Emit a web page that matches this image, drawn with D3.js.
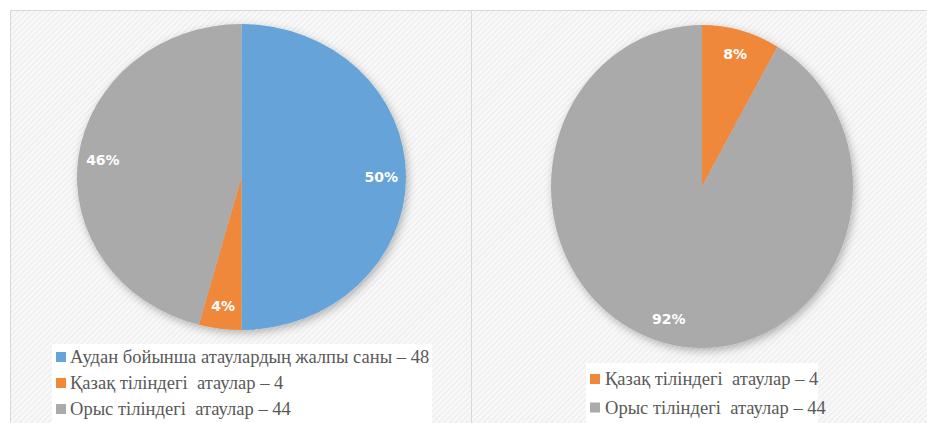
<!DOCTYPE html>
<html>
<head>
<meta charset="utf-8">
<script src="https://cdn.jsdelivr.net/npm/d3@7"></script>
<style>
  html, body { margin: 0; padding: 0; background: #ffffff; }
  svg { display: block; }
</style>
</head>
<body>
<svg id="chart" width="927" height="423"></svg>
<script>
// data
const leftNames = ["Аудан бойынша атаулардың жалпы саны – 48", "Қазақ тіліндегі  атаулар – 4", "Орыс тіліндегі  атаулар – 44"];
const leftValues = [48, 4, 44];
const leftLabels = ["50%", "4%", "46%"];
const rightNames = ["Қазақ тіліндегі  атаулар – 4", "Орыс тіліндегі  атаулар – 44"];
const rightValues = [4, 44];
const rightLabels = ["8%", "92%"];
const leftColors = ["#65a3d9", "#f0883a", "#aaaaaa"];
const rightColors = ["#f0883a", "#aaaaaa"];

const svg = d3.select("#chart");
const defs = svg.append("defs");

// diagonal stripes used as chart area background
const pattern = defs.append("pattern")
  .attr("id", "stripes")
  .attr("width", 4)
  .attr("height", 4)
  .attr("patternUnits", "userSpaceOnUse")
  .attr("patternTransform", "rotate(45)");
pattern.append("rect").attr("width", 4).attr("height", 4).attr("fill", "#f9f9f9");
pattern.append("rect").attr("width", 1.3).attr("height", 4).attr("fill", "#ececec");

const shadow = defs.append("filter")
  .attr("id", "shadow")
  .attr("x", "-20%").attr("y", "-20%")
  .attr("width", "140%").attr("height", "140%");
shadow.append("feDropShadow")
  .attr("dx", 2).attr("dy", 3)
  .attr("stdDeviation", 4)
  .attr("flood-color", "#000")
  .attr("flood-opacity", 0.28);

// two chart panels
const panels = [
  { x: 10, w: 461 },
  { x: 471, w: 470 },
];
panels.forEach((p) => {
  svg.append("rect")
    .attr("x", p.x + 0.5)
    .attr("y", 10.5)
    .attr("width", p.w)
    .attr("height", 430)
    .attr("fill", "url(#stripes)")
    .attr("stroke", "#d9d9d9")
    .attr("stroke-width", 1);
});

const drawPie = (values, colors, labels, cfg) => {
  const pie = d3.pie().sort(null).value((d) => d);
  const arcs = pie(values);
  const r = 100;
  const arc = d3.arc().innerRadius(0).outerRadius(r);
  const labelArc = d3.arc().innerRadius(r * 0.85).outerRadius(r * 0.85);

  const g = svg.append("g")
    .attr("transform", `translate(${cfg.cx},${cfg.cy})`);

  g.append("g")
    .attr("filter", "url(#shadow)")
    .append("g")
    .attr("transform", `scale(${cfg.rx / r},${cfg.ry / r})`)
    .selectAll("path")
    .data(arcs)
    .join("path")
    .attr("d", arc)
    .attr("fill", (d, i) => colors[i]);

  g.selectAll("text")
    .data(arcs)
    .join("text")
    .attr("x", (d) => (labelArc.centroid(d)[0] * cfg.rx) / r)
    .attr("y", (d) => (labelArc.centroid(d)[1] * cfg.ry) / r)
    .attr("dy", "0.35em")
    .attr("text-anchor", "middle")
    .style("font-family", '"DejaVu Sans", Verdana, sans-serif')
    .attr("font-weight", "bold")
    .attr("font-size", "14px")
    .attr("fill", "#ffffff")
    .text((d, i) => labels[i]);
};

drawPie(leftValues, leftColors, leftLabels, { cx: 241.5, cy: 177, rx: 164.5, ry: 153 });
drawPie(rightValues, rightColors, rightLabels, { cx: 702, cy: 186.5, rx: 151, ry: 161.5 });

// the source picture is a bit stretched sideways
const legendStretch = 1.03;

const drawLegend = (names, colors, cfg) => {
  svg.append("rect")
    .attr("x", cfg.x)
    .attr("y", cfg.y)
    .attr("width", cfg.w)
    .attr("height", 100)
    .attr("fill", "#ffffff");

  const item = svg.append("g")
    .selectAll("g")
    .data(names)
    .join("g")
    .attr("transform", (d, i) => `translate(${cfg.x + 4},${cfg.y0 + i * cfg.step})`);

  item.append("rect")
    .attr("x", 0)
    .attr("y", -5)
    .attr("width", 10)
    .attr("height", 10)
    .attr("fill", (d, i) => colors[i]);

  item.append("text")
    .attr("transform", `translate(${cfg.tx},0) scale(${legendStretch},1)`)
    .attr("dy", "0.35em")
    .style("font-family", '"Liberation Serif"')
    .attr("font-size", "18px")
    .attr("fill", "#595959")
    .style("white-space", "pre")
    .text((d) => d);
};

drawLegend(leftNames, leftColors, { x: 52, y: 344, w: 380, y0: 357, step: 26, tx: 14 });
drawLegend(rightNames, rightColors, { x: 586, y: 363, w: 232, y0: 379, step: 28.5, tx: 15 });
</script>
</body>
</html>
